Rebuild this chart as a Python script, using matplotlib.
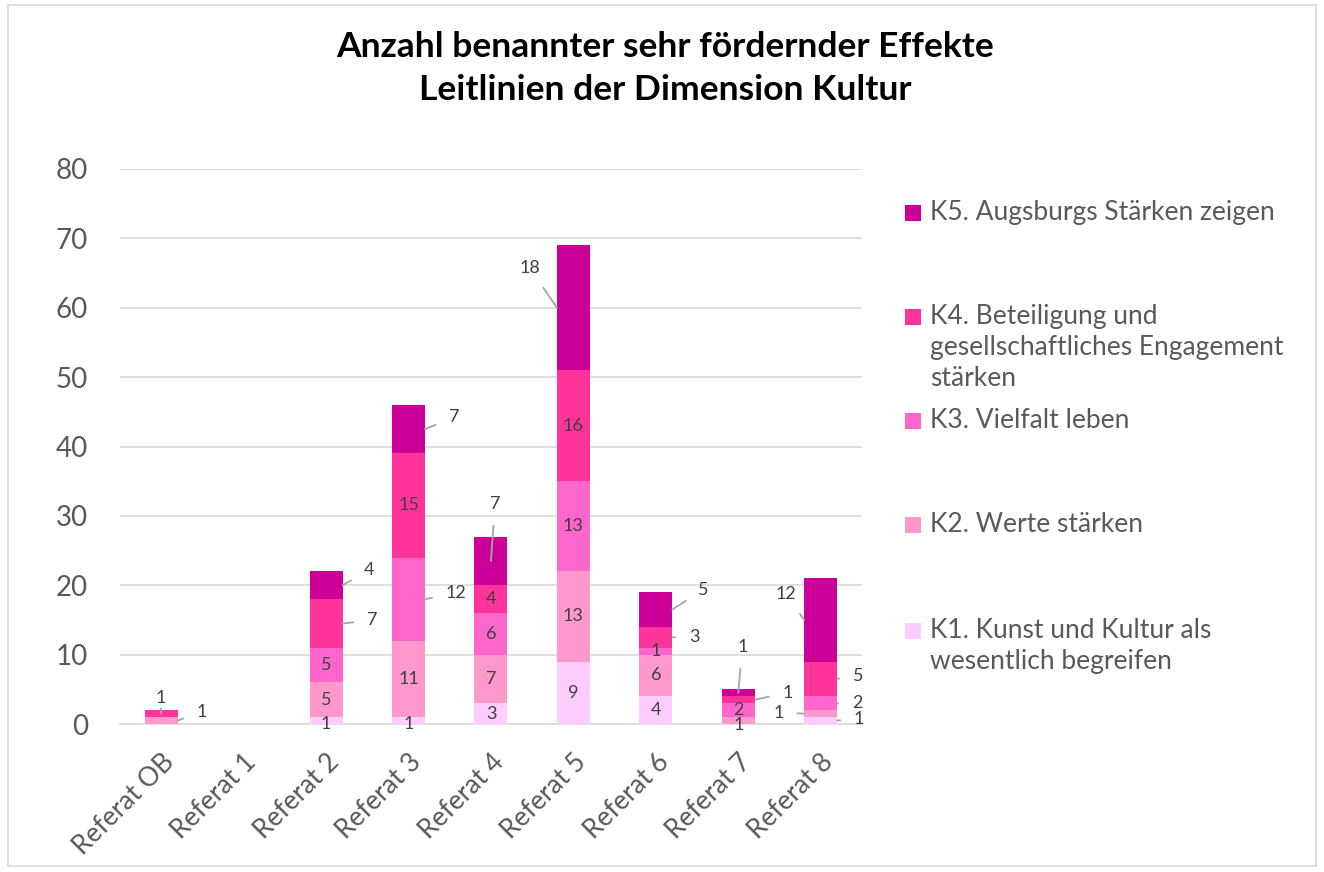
import matplotlib
matplotlib.use("Agg")
import matplotlib.pyplot as plt
from matplotlib.patches import Rectangle
import numpy as np

plt.rcParams['font.family'] = ['Lato', 'DejaVu Sans']

categories = ["Referat OB", "Referat 1", "Referat 2", "Referat 3", "Referat 4",
              "Referat 5", "Referat 6", "Referat 7", "Referat 8"]
series_names = ["K1. Kunst und Kultur als\nwesentlich begreifen",
                "K2. Werte stärken",
                "K3. Vielfalt leben",
                "K4. Beteiligung und\ngesellschaftliches Engagement\nstärken",
                "K5. Augsburgs Stärken zeigen"]
k1 = [0, 0, 1, 1, 3, 9, 4, 0, 1]
k2 = [1, 0, 5, 11, 7, 13, 6, 1, 1]
k3 = [0, 0, 5, 12, 6, 13, 1, 2, 2]
k4 = [1, 0, 7, 15, 4, 16, 3, 1, 5]
k5 = [0, 0, 4, 7, 7, 18, 5, 1, 12]
series = [k1, k2, k3, k4, k5]
colors = ["#FFCCFF", "#FF99CC", "#FF66CC", "#FF3399", "#CC0099"]

# label placement: (category index, series index) -> pixel offset for outside labels
# (offsets measured from the bar edge for side labels, from the centre for labels above)
outside = {
    (0, 1): (24, 9), (0, 3): (0, 16),
    (2, 3): (30, 3), (2, 4): (26, 15),
    (3, 2): (31, 6), (3, 4): (29, 12),
    (4, 4): (4, 57),
    (5, 4): (-27, 40),
    (6, 3): (22, 0), (6, 4): (31, 20),
    (7, 3): (33, 7), (7, 4): (4, 46),
    (8, 0): (22, 2), (8, 1): (-26, 1), (8, 2): (20, 0), (8, 3): (21, 3), (8, 4): (-18, 26),
}
inside_dy = {(2, 0): -3, (3, 0): -3, (7, 1): -4, (7, 2): 0}

fig = plt.figure(figsize=(13.24, 8.72), dpi=100)
fig.patches.append(Rectangle((0.006, 0.007), 0.988, 0.987, transform=fig.transFigure,
                             fill=False, edgecolor="#D9D9D9", linewidth=1.2))
ax = fig.add_axes([0.0906, 0.1697, 0.5604, 0.6365])

x = np.arange(len(categories))
bottom = np.zeros(len(categories))
width = 0.40
for si, (vals, col) in enumerate(zip(series, colors)):
    vals = np.array(vals, dtype=float)
    ax.bar(x, vals, width, bottom=bottom, color=col, label=series_names[si], zorder=3)
    for ci in range(len(categories)):
        v = vals[ci]
        if v <= 0:
            continue
        yc = bottom[ci] + v / 2
        if (ci, si) in outside:
            dx, dy = outside[(ci, si)]
            if abs(dx) < 10:
                xa = x[ci]
            else:
                xa = x[ci] + (width / 2 if dx > 0 else -width / 2)
            ax.annotate(f"{int(v)}", xy=(xa, yc),
                        xytext=(dx, dy), textcoords="offset pixels",
                        ha="center", va="center", fontsize=13, color="#404040",
                        arrowprops=dict(arrowstyle="-", color="#A6A6A6", lw=1.3,
                                        shrinkA=8, shrinkB=0), zorder=5)
        else:
            dy = inside_dy.get((ci, si), 0)
            ax.annotate(f"{int(v)}", xy=(x[ci], yc), xytext=(0, dy), textcoords="offset pixels",
                        ha="center", va="center", fontsize=13, color="#404040", zorder=5)
    bottom += vals

ax.set_xlim(-0.5, len(categories) - 0.5)
ax.set_ylim(0, 80)
ax.set_yticks(np.arange(0, 81, 10))
ax.yaxis.grid(True, color="#D9D9D9", linewidth=1.2, zorder=0)
ax.set_axisbelow(True)
for s in ["left", "right", "top"]:
    ax.spines[s].set_visible(False)
ax.spines["bottom"].set_color("#D9D9D9")
ax.spines["bottom"].set_linewidth(1.2)
ax.tick_params(axis="y", length=0, labelsize=20, labelcolor="#595959", pad=23)
ax.tick_params(axis="x", length=0, labelsize=19, labelcolor="#595959", pad=18)
ax.set_xticks(x)
ax.set_xticklabels(categories, rotation=45, ha="right", rotation_mode="anchor")

fig.text(0.5025, 0.946, "Anzahl benannter sehr fördernder Effekte", ha="center", va="center",
         fontsize=25.5, fontweight="bold", color="#000000")
fig.text(0.5025, 0.897, "Leitlinien der Dimension Kultur", ha="center", va="center",
         fontsize=25.5, fontweight="bold", color="#000000")

# legend (top to bottom: K5 ... K1)
leg_y = [213, 317, 421, 525, 631]
for i, yy in enumerate(leg_y):
    si = 4 - i
    fy = 1 - yy / 872
    fig.patches.append(Rectangle((905 / 1324, fy - 8 / 872), 16 / 1324, 16 / 872,
                                 transform=fig.transFigure, facecolor=colors[si], edgecolor="none"))
    fig.text(930 / 1324, fy + 13 / 872, series_names[si], ha="left", va="top", fontsize=19,
             color="#595959", linespacing=1.3)

fig.savefig("out.png", dpi=100)
